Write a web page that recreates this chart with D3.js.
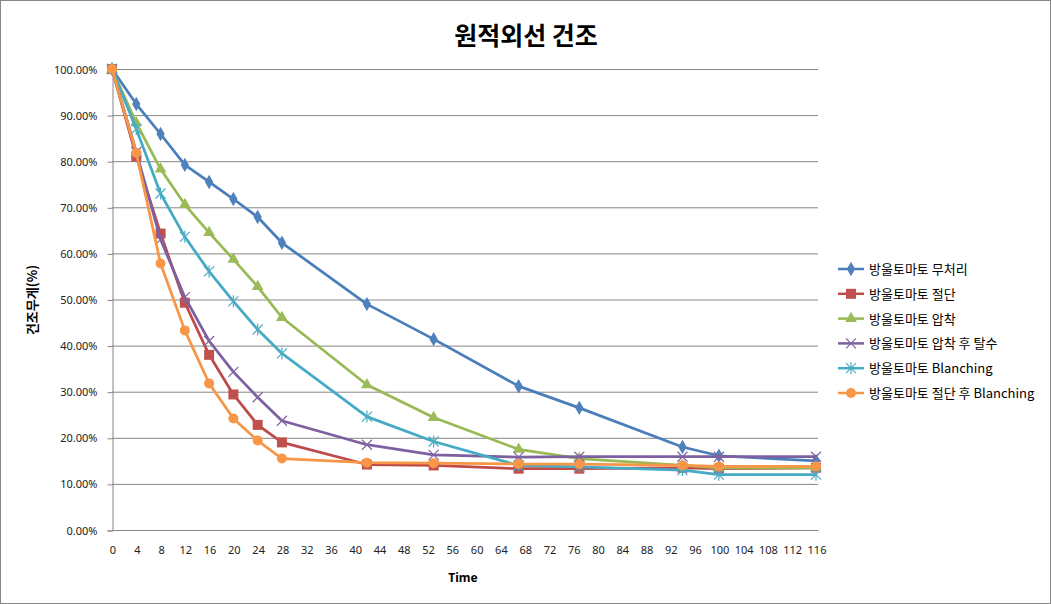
<!DOCTYPE html>
<html>
<head>
<meta charset="utf-8">
<script src="https://cdn.jsdelivr.net/npm/d3@7"></script>
<style>
  body { margin: 0; background: #fff; }
  svg { font-family: "Noto Sans CJK KR", "Noto Sans", sans-serif; }
</style>
</head>
<body>
<svg width="1051" height="604"></svg>
<script>
// time points (hours)
const times = [0, 4, 8, 12, 16, 20, 24, 28, 42, 53, 67, 77, 94, 100, 116];
// series names
const seriesNames = [
  "방울토마토 무처리",
  "방울토마토 절단",
  "방울토마토 압착",
  "방울토마토 압착 후 탈수",
  "방울토마토 Blanching",
  "방울토마토 절단 후 Blanching"
];
// weight ratios (%)
const untreated   = [100, 92.4, 85.9, 79.2, 75.5, 71.8, 67.9, 62.3, 49.0, 41.4, 31.2, 26.5, 18.0, 16.1, 15.0];
const cut         = [100, 81.0, 64.3, 49.3, 38.0, 29.4, 22.8, 19.0, 14.2, 14.0, 13.3, 13.3, 13.5, 13.3, 13.5];
const pressed     = [100, 88.3, 78.3, 70.6, 64.5, 58.7, 52.8, 46.1, 31.5, 24.4, 17.5, 15.5, 14.0, 13.5, 13.5];
const pressedDry  = [100, 82.0, 63.0, 50.5, 41.0, 34.3, 28.8, 23.7, 18.5, 16.3, 15.8, 15.9, 15.9, 15.9, 15.9];
const blanching   = [100, 87.0, 73.0, 63.6, 56.1, 49.6, 43.5, 38.3, 24.6, 19.2, 14.0, 13.7, 13.0, 12.0, 12.0];
const cutBlanch   = [100, 81.8, 57.8, 43.3, 31.8, 24.2, 19.4, 15.5, 14.6, 14.5, 14.3, 14.3, 14.0, 13.8, 13.8];
const xTicks = d3.range(0, 117, 4);
const yTicks = d3.range(0, 101, 10);

const allSeries = [untreated, cut, pressed, pressedDry, blanching, cutBlanch];
const lineColors = ["#4A7EBB", "#BE4B48", "#98B954", "#7D60A0", "#46AAC5", "#F79646"];
const markColors = ["#4F81BD", "#C0504D", "#9BBB59", "#8064A2", "#4BACC6", "#F79646"];
const markTypes = ["diamond", "square", "triangle", "x", "star", "circle"];

const svg = d3.select("svg");

// outer border
svg.append("rect")
  .attr("x", 0.5).attr("y", 0.5)
  .attr("width", 1050).attr("height", 603)
  .attr("fill", "#fff").attr("stroke", "#868686");

const x = d3.scaleLinear().domain([0, 116]).range([112, 816]);
const y = d3.scaleLinear().domain([0, 100]).range([530, 69]);

// gridlines
svg.append("g")
  .selectAll("line")
  .data(yTicks.filter(d => d > 0))
  .join("line")
  .attr("x1", 112).attr("x2", 818)
  .attr("y1", d => y(d) + 0.5).attr("y2", d => y(d) + 0.5)
  .attr("stroke", "#868686");

// y axis
const yAxis = svg.append("g")
  .attr("transform", "translate(112.5,0.5)")
  .call(d3.axisLeft(y).tickValues(yTicks).tickSize(5).tickPadding(10)
    .tickFormat(d => d.toFixed(2) + "%"));
yAxis.select(".domain").attr("stroke", "#868686");
yAxis.selectAll(".tick line").attr("stroke", "#868686");
yAxis.selectAll("text").attr("font-size", 11).attr("fill", "#222")
  .attr("font-family", "Noto Sans, sans-serif");

// x axis
const xAxis = svg.append("g")
  .attr("transform", "translate(0.5,530.5)")
  .call(d3.axisBottom(x).tickValues(xTicks).tickSize(0).tickPadding(16));
xAxis.select(".domain").attr("stroke", "#868686").attr("d", "M112,0H818");
xAxis.selectAll("text").attr("font-size", 11).attr("fill", "#222")
  .attr("font-family", "Noto Sans, sans-serif");

// title and axis labels
svg.append("text")
  .attr("x", 526).attr("y", 45)
  .attr("text-anchor", "middle")
  .attr("font-size", 25).attr("font-weight", "bold")
  .text("원적외선 건조");

svg.append("text")
  .attr("x", 463).attr("y", 582)
  .attr("text-anchor", "middle")
  .attr("font-size", 12).attr("font-weight", "bold")
  .attr("font-family", "Noto Sans, sans-serif")
  .text("Time");

svg.append("text")
  .attr("transform", "translate(37,300) rotate(-90)")
  .attr("text-anchor", "middle")
  .attr("font-size", 13).attr("font-weight", "bold")
  .text("건조무게(%)");

// marker helper
function drawMarker(g, type, color, cx, cy) {
  if (type === "diamond") {
    g.append("path").attr("d", d3.symbol(d3.symbolDiamond, 60)())
      .attr("transform", `translate(${cx},${cy})`).attr("fill", color);
  } else if (type === "square") {
    g.append("rect").attr("x", cx - 5).attr("y", cy - 5)
      .attr("width", 10).attr("height", 10).attr("fill", color);
  } else if (type === "triangle") {
    g.append("path").attr("d", d3.symbol(d3.symbolTriangle, 60)())
      .attr("transform", `translate(${cx},${cy})`).attr("fill", color);
  } else if (type === "x") {
    g.append("path").attr("d", `M${cx-5},${cy-5}L${cx+5},${cy+5}M${cx-5},${cy+5}L${cx+5},${cy-5}`)
      .attr("stroke", color).attr("stroke-width", 1.2).attr("fill", "none");
  } else if (type === "star") {
    g.append("path").attr("d", `M${cx-5},${cy-5}L${cx+5},${cy+5}M${cx-5},${cy+5}L${cx+5},${cy-5}M${cx},${cy-6}L${cx},${cy+6}`)
      .attr("stroke", color).attr("stroke-width", 1.2).attr("fill", "none");
  } else {
    g.append("circle").attr("cx", cx).attr("cy", cy).attr("r", 5).attr("fill", color);
  }
}

const line = d3.line().x((d, i) => x(times[i])).y(d => y(d));

allSeries.forEach((vals, s) => {
  const g = svg.append("g");
  g.append("path")
    .datum(vals)
    .attr("fill", "none")
    .attr("stroke", lineColors[s])
    .attr("stroke-width", 2.75)
    .attr("stroke-linejoin", "round")
    .attr("d", line);
  vals.forEach((v, i) => drawMarker(g, markTypes[s], markColors[s], x(times[i]), y(v)));
});

// legend
const legend = svg.append("g");
seriesNames.forEach((name, s) => {
  const ly = 269 + s * 24.8;
  const g = legend.append("g");
  g.append("line").attr("x1", 838).attr("x2", 864).attr("y1", ly).attr("y2", ly)
    .attr("stroke", lineColors[s]).attr("stroke-width", 2.5);
  drawMarker(g, markTypes[s], markColors[s], 851, ly);
  g.append("text").attr("x", 869).attr("y", ly + 5)
    .attr("font-size", 13).attr("fill", "#000")
    .text(name);
});
</script>
</body>
</html>
